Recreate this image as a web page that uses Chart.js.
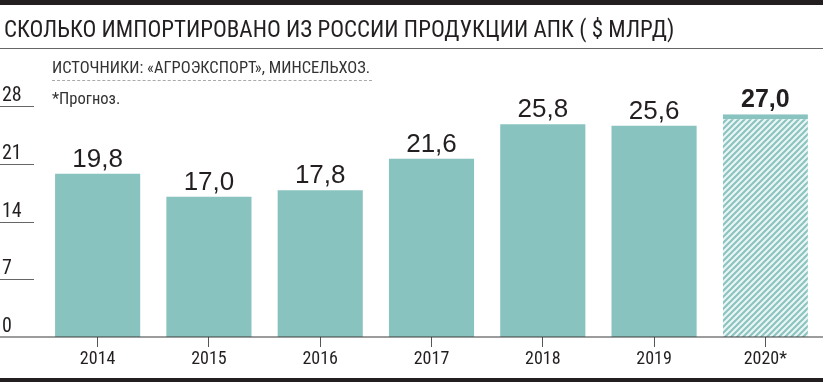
<!DOCTYPE html>
<html>
<head>
<meta charset="utf-8">
<script src="https://cdn.jsdelivr.net/npm/chart.js@4"></script>
<style>
  body { margin: 0; width: 823px; height: 383px; background: #fff; overflow: hidden; position: relative; }
  .narrow { font-family: 'Liberation Sans Narrow', 'Arial Narrow', 'Roboto Condensed', sans-serif; color: #231f20; }
  #topbar { position: absolute; left: 0; top: 0; width: 823px; height: 5px; background: #231f20; }
  #title { position: absolute; left: 4px; top: 16px; font-size: 23px; white-space: nowrap; }
  #rule { position: absolute; left: 0; top: 48px; width: 823px; height: 1px; background: #666; }
  #source { position: absolute; left: 52px; top: 58px; font-size: 16.5px; color: #333; white-space: nowrap; }
  #dots { position: absolute; left: 52px; top: 80px; width: 320px; border-top: 1px dashed #aaa; }
  #note { position: absolute; left: 52px; top: 89px; font-size: 16.5px; color: #333; }
  #bottombar { position: absolute; left: 0; top: 378px; width: 823px; height: 4px; background: #231f20; }
  #wrap { position: absolute; left: 0; top: 0; width: 823px; height: 383px; }
</style>
</head>
<body>
<div id="wrap"><canvas id="importChart" width="823" height="383"></canvas></div>
<div id="topbar"></div>
<div id="title" class="narrow">СКОЛЬКО ИМПОРТИРОВАНО ИЗ РОССИИ ПРОДУКЦИИ АПК ( $ МЛРД)</div>
<div id="rule"></div>
<div id="source" class="narrow">ИСТОЧНИКИ: «АГРОЭКСПОРТ», МИНСЕЛЬХОЗ.</div>
<div id="dots"></div>
<div id="note" class="narrow">*Прогноз.</div>
<div id="bottombar"></div>
<script>
const ctx = document.getElementById('importChart').getContext('2d');

// Data
const years = ['2014', '2015', '2016', '2017', '2018', '2019', '2020*'];
const imports = [19.8, 17.0, 17.8, 21.6, 25.8, 25.6, 27.0];
const yTicks = [0, 7, 14, 21, 28];
const forecastIndex = 6;

const narrowFont = "'Liberation Sans Narrow', 'Arial Narrow', 'Roboto Condensed', sans-serif";
const barColor = '#89c3bf';

// Hatch pattern for forecast bar
function makeHatch() {
  const c = document.createElement('canvas');
  c.width = 6; c.height = 6;
  const g = c.getContext('2d');
  g.fillStyle = '#eaf5f4';
  g.fillRect(0, 0, 6, 6);
  g.strokeStyle = barColor;
  g.lineWidth = 2;
  g.beginPath();
  g.moveTo(-1, 1); g.lineTo(1, -1);
  g.moveTo(0, 6); g.lineTo(6, 0);
  g.moveTo(5, 7); g.lineTo(7, 5);
  g.stroke();
  return ctx.createPattern(c, 'repeat');
}
const hatch = makeHatch();

const fmt = v => v.toFixed(1).replace('.', ',');

// Axis line, y ticks and value labels
const decorPlugin = {
  id: 'decor',
  afterDraw(chart) {
    const c = chart.ctx;
    const y = chart.scales.y;
    c.save();
    // full-width baseline
    c.strokeStyle = '#3a3a3a';
    c.lineWidth = 1.2;
    c.beginPath();
    c.moveTo(0, y.getPixelForValue(0));
    c.lineTo(chart.width, y.getPixelForValue(0));
    c.stroke();
    // short y tick lines + labels
    c.font = '20px ' + narrowFont;
    c.fillStyle = '#231f20';
    c.textAlign = 'left';
    c.textBaseline = 'alphabetic';
    c.strokeStyle = '#666';
    c.lineWidth = 1;
    yTicks.forEach(v => {
      const py = Math.round(y.getPixelForValue(v)) + 0.5;
      if (v > 0) {
        c.beginPath();
        c.moveTo(0, py);
        c.lineTo(34, py);
        c.stroke();
      }
      c.fillText(String(v), 2, py - 6);
    });
    // value labels
    const meta = chart.getDatasetMeta(0);
    c.textAlign = 'center';
    meta.data.forEach((bar, i) => {
      if (i === forecastIndex) {
        c.font = 'bold 25px "Liberation Sans", Arial, sans-serif';
      } else {
        c.font = '26px "Liberation Sans", Arial, sans-serif';
      }
      c.fillText(fmt(imports[i]), bar.x, bar.y - 7);
    });
    c.restore();
  }
};

new Chart(ctx, {
  type: 'bar',
  data: {
    labels: years,
    datasets: [{
      data: imports,
      backgroundColor: imports.map((v, i) => i === forecastIndex ? hatch : barColor),
      borderColor: barColor,
      borderWidth: c => c.dataIndex === forecastIndex ? { top: 5, left: 0, right: 0, bottom: 0 } : 0,
      barPercentage: 0.765,
      categoryPercentage: 1
    }]
  },
  options: {
    responsive: false,
    animation: false,
    layout: { padding: { left: 42, right: 2, top: 106, bottom: 10 } },
    plugins: { legend: { display: false }, tooltip: { enabled: false } },
    scales: {
      x: {
        grid: { drawOnChartArea: false, drawTicks: true, tickLength: 10, offset: false, color: '#555' },
        border: { display: false },
        ticks: { color: '#231f20', padding: 2, font: { family: narrowFont, size: 18 } },
        afterFit: s => { s.height = 36; }
      },
      y: { display: false, min: 0, max: 28 }
    }
  },
  plugins: [decorPlugin]
});
</script>
</body>
</html>
